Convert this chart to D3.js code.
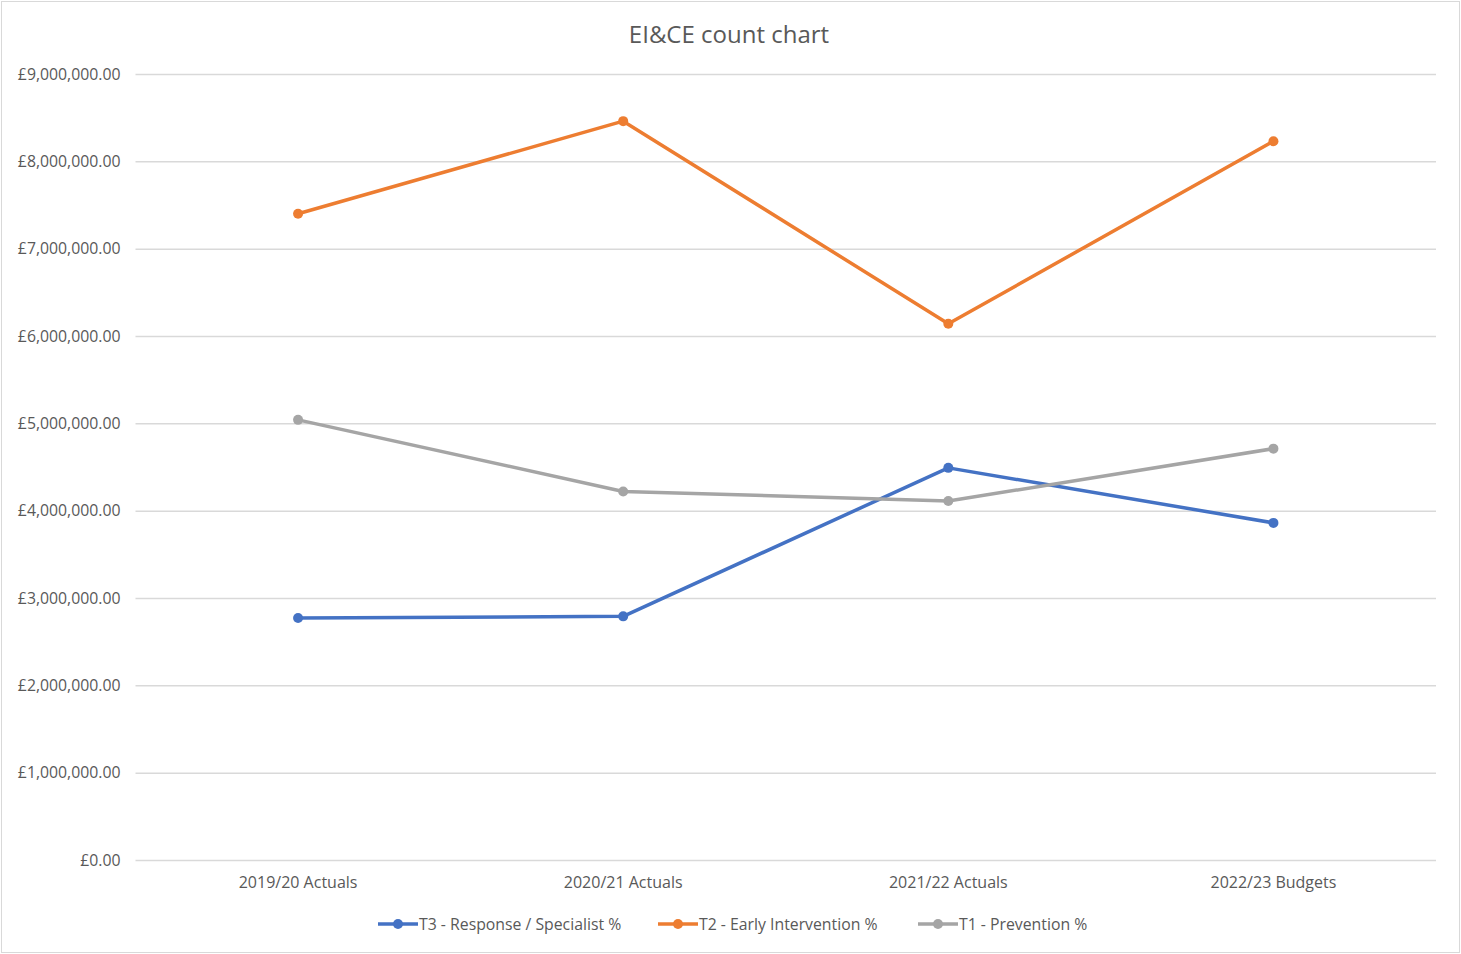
<!DOCTYPE html>
<html>
<head>
<meta charset="utf-8">
<script src="https://cdn.jsdelivr.net/npm/d3@7"></script>
<style>
  html, body { margin: 0; padding: 0; background: #fff; }
  svg { display: block; }
  text { font-family: "Open Sans", Lato, sans-serif; }
</style>
</head>
<body>
<svg id="chart" width="1461" height="954"></svg>
<script>
// Spending by tier, per financial year
const categories = ["2019/20 Actuals", "2020/21 Actuals", "2021/22 Actuals", "2022/23 Budgets"];
const t3Values = [2770000, 2790000, 4490000, 3860000];
const t2Values = [7400000, 8460000, 6140000, 8230000];
const t1Values = [5040000, 4220000, 4110000, 4710000];
const seriesNames = ["T3 - Response / Specialist %", "T2 - Early Intervention %", "T1 - Prevention %"];
const yTicks = [0, 1000000, 2000000, 3000000, 4000000, 5000000, 6000000, 7000000, 8000000, 9000000];

const series = [
  { name: seriesNames[0], values: t3Values, color: "#4472C4" },
  { name: seriesNames[1], values: t2Values, color: "#ED7D31" },
  { name: seriesNames[2], values: t1Values, color: "#A5A5A5" }
];

const W = 1461, H = 954;
const plot = { left: 135.5, right: 1436, top: 74, bottom: 860 };
const fontFamily = "'Open Sans', Lato, sans-serif";

const svg = d3.select("#chart");

// outer chart frame
svg.append("rect")
  .attr("x", 1.5).attr("y", 1.5)
  .attr("width", W - 3).attr("height", H - 3)
  .attr("fill", "#fff").attr("stroke", "#D9D9D9").attr("stroke-width", 1);

svg.append("text")
  .attr("x", 729).attr("y", 43)
  .attr("text-anchor", "middle")
  .attr("font-size", 24)
  .attr("fill", "#595959")
  .text("EI&CE count chart");

const x = d3.scaleBand().domain(categories).range([plot.left, plot.right]);
const y = d3.scaleLinear().domain([0, 9000000]).range([plot.bottom, plot.top]);

const fmt = v => "£" + d3.format(",.2f")(v);

// horizontal gridlines + y labels
const yAxis = d3.axisLeft(y).tickValues(yTicks).tickFormat(fmt)
  .tickSize(-(plot.right - plot.left)).tickPadding(15);
const gy = svg.append("g").attr("transform", `translate(${plot.left},0)`).call(yAxis);
gy.select(".domain").remove();
gy.selectAll(".tick line").attr("stroke", "#D9D9D9").attr("stroke-width", 1.5);
gy.selectAll(".tick text").attr("font-size", 15.8).attr("fill", "#595959")
  .attr("font-family", fontFamily);

// category axis labels
const xAxis = d3.axisBottom(x).tickSize(0).tickPadding(17);
const gx = svg.append("g").attr("transform", `translate(0,${plot.bottom})`).call(xAxis);
gx.select(".domain").remove();
gx.selectAll(".tick text").attr("font-size", 16).attr("fill", "#595959")
  .attr("font-family", fontFamily);

const cx = c => x(c) + x.bandwidth() / 2;
const line = d3.line().x((d, i) => cx(categories[i])).y(d => y(d));

series.forEach(s => {
  svg.append("path")
    .datum(s.values)
    .attr("d", line)
    .attr("fill", "none")
    .attr("stroke", s.color)
    .attr("stroke-width", 3.5)
    .attr("stroke-linejoin", "round")
    .attr("stroke-linecap", "round");
  svg.selectAll(null)
    .data(s.values)
    .enter().append("circle")
    .attr("cx", (d, i) => cx(categories[i]))
    .attr("cy", d => y(d))
    .attr("r", 5)
    .attr("fill", s.color);
});

// legend
const legendX = [378, 658, 918];
const legendY = 924;
series.forEach((s, i) => {
  const g = svg.append("g").attr("transform", `translate(${legendX[i]},${legendY})`);
  g.append("line").attr("x1", 0).attr("x2", 40).attr("y1", 0).attr("y2", 0)
    .attr("stroke", s.color).attr("stroke-width", 3.5);
  g.append("circle").attr("cx", 20).attr("cy", 0).attr("r", 5).attr("fill", s.color);
  g.append("text").attr("x", 41).attr("y", 5.5)
    .attr("font-size", 15.8).attr("fill", "#595959").text(s.name);
});
</script>
</body>
</html>
